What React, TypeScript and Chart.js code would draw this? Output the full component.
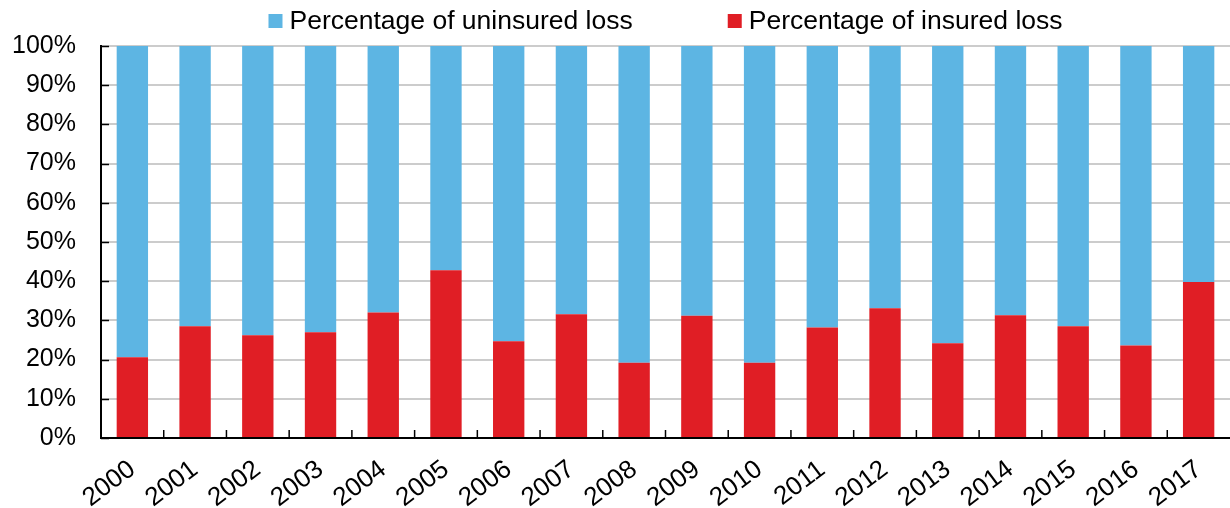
import React, { useEffect, useRef } from "react";
import { Chart, registerables } from "chart.js";

Chart.register(...registerables);

const years = [
  "2000", "2001", "2002", "2003", "2004", "2005", "2006", "2007", "2008",
  "2009", "2010", "2011", "2012", "2013", "2014", "2015", "2016", "2017",
];
const insuredPct = [
  20.6, 28.5, 26.2, 27.0, 32.0, 42.8, 24.7, 31.6, 19.2,
  31.2, 19.2, 28.2, 33.1, 24.2, 31.3, 28.5, 23.6, 39.8,
];
const uninsuredPct = [
  79.4, 71.5, 73.8, 73.0, 68.0, 57.2, 75.3, 68.4, 80.8,
  68.8, 80.8, 71.8, 66.9, 75.8, 68.7, 71.5, 76.4, 60.2,
];
const yTicks = [0, 10, 20, 30, 40, 50, 60, 70, 80, 90, 100];

const BLUE = "#5DB5E3";
const RED = "#E01E25";
const FONT = "'Liberation Sans', Arial, sans-serif";

const innerTicks = {
  id: "innerTicks",
  afterDatasetsDraw(chart: any) {
    const { ctx, chartArea, scales } = chart;
    const x = scales.x;
    const y = scales.y;
    ctx.save();
    ctx.strokeStyle = "#000";
    ctx.lineWidth = 1.5;
    yTicks.forEach((v) => {
      const py = Math.round(y.getPixelForValue(v)) + 0.5;
      ctx.beginPath();
      ctx.moveTo(chartArea.left, py);
      ctx.lineTo(chartArea.left + 8, py);
      ctx.stroke();
    });
    for (let i = 0; i < years.length - 1; i++) {
      const px = (x.getPixelForTick(i) + x.getPixelForTick(i + 1)) / 2;
      ctx.beginPath();
      ctx.moveTo(px, chartArea.bottom);
      ctx.lineTo(px, chartArea.bottom - 8);
      ctx.stroke();
    }
    ctx.restore();
  },
};

const customLegend = {
  id: "customLegend",
  afterDraw(chart: any) {
    const { ctx, chartArea } = chart;
    const items = [
      { label: chart.data.datasets[1].label, color: BLUE },
      { label: chart.data.datasets[0].label, color: RED },
    ];
    const box = 14;
    const gap = 7;
    const spacing = 95;
    ctx.save();
    ctx.font = `26.5px ${FONT}`;
    ctx.textBaseline = "alphabetic";
    const widths = items.map((it) => ctx.measureText(it.label).width);
    const total =
      widths.reduce((a, b) => a + b, 0) + items.length * (box + gap) + spacing * (items.length - 1);
    let xPos = (chartArea.left + chartArea.right) / 2 - total / 2;
    items.forEach((it, i) => {
      ctx.fillStyle = it.color;
      ctx.fillRect(xPos, 14, box, box);
      ctx.fillStyle = "#000";
      ctx.fillText(it.label, xPos + box + gap, 29);
      xPos += box + gap + widths[i] + spacing;
    });
    ctx.restore();
  },
};

export default function App() {
  const ref = useRef<HTMLCanvasElement | null>(null);

  useEffect(() => {
    if (!ref.current) return;
    const chart = new Chart(ref.current, {
      type: "bar",
      data: {
        labels: years,
        datasets: [
          {
            label: "Percentage of insured loss",
            data: insuredPct,
            backgroundColor: RED,
            borderWidth: 0,
          },
          {
            label: "Percentage of uninsured loss",
            data: uninsuredPct,
            backgroundColor: BLUE,
            borderWidth: 0,
          },
        ],
      },
      options: {
        responsive: false,
        animation: false,
        layout: { padding: { top: 46, left: 0, right: 0, bottom: 0 } },
        datasets: { bar: { barPercentage: 0.5, categoryPercentage: 1 } },
        plugins: {
          legend: { display: false },
          tooltip: { enabled: false },
        },
        scales: {
          x: {
            stacked: true,
            grid: { display: false, drawTicks: false },
            border: { display: true, color: "#000", width: 2 },
            ticks: {
              color: "#000",
              font: { family: FONT, size: 26 },
              minRotation: 37,
              maxRotation: 37,
              padding: 16,
              autoSkip: false,
            },
            afterFit: (s: any) => {
              s.height = 70;
              s.paddingRight = 0;
              s.paddingLeft = 0;
            },
          },
          y: {
            stacked: true,
            min: 0,
            max: 100,
            grid: { color: "#cccccc", lineWidth: 2, drawTicks: false },
            border: { display: true, color: "#000", width: 2 },
            ticks: {
              stepSize: 10,
              color: "#000",
              font: { family: FONT, size: 25 },
              padding: 25,
              callback: (v: any) => `${v}%`,
            },
            afterFit: (s: any) => {
              s.width = 101;
            },
          },
        },
      },
      plugins: [innerTicks, customLegend],
    });
    return () => chart.destroy();
  }, []);

  return (
    <div style={{ position: "fixed", left: 0, top: 0, width: 1230, height: 508, background: "#fff" }}>
      <canvas ref={ref} width={1230} height={508} style={{ display: "block" }} />
    </div>
  );
}
